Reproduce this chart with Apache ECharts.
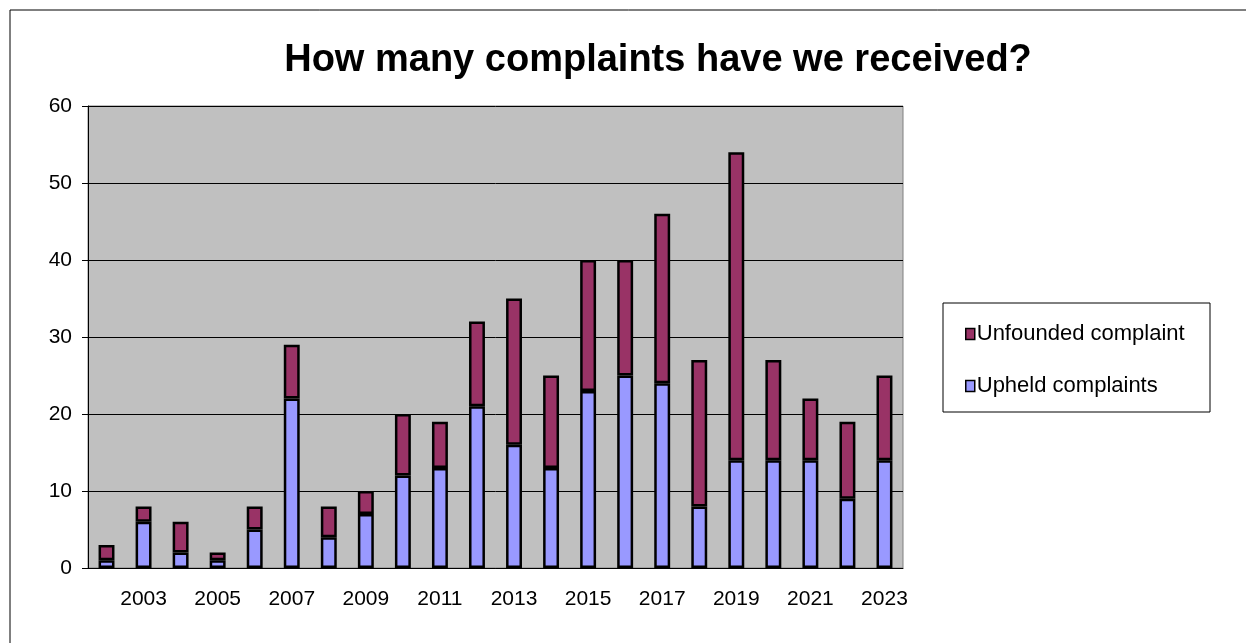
<!DOCTYPE html>
<html>
<head>
<meta charset="utf-8">
<script src="https://cdn.jsdelivr.net/npm/echarts@6/dist/echarts.min.js"></script>
<style>
  html, body { margin: 0; padding: 0; background: #fff; }
  #chart { width: 1246px; height: 643px; }
</style>
</head>
<body>
<div id="chart"></div>
<script>
// years on the x axis
var years = ['2002','2003','2004','2005','2006','2007','2008','2009','2010','2011','2012',
             '2013','2014','2015','2016','2017','2018','2019','2020','2021','2022','2023'];
// upheld complaints (bottom of stack)
var upheld = [1, 6, 2, 1, 5, 22, 4, 7, 12, 13, 21, 16, 13, 23, 25, 24, 8, 14, 14, 14, 9, 14];
// unfounded complaints (top of stack)
var unfounded = [2, 2, 4, 1, 3, 7, 4, 3, 8, 6, 11, 19, 12, 17, 15, 22, 19, 40, 13, 8, 10, 11];

var chart = echarts.init(document.getElementById('chart'));

var option = {
  backgroundColor: '#fff',
  textStyle: { fontFamily: 'Liberation Sans, Arial, sans-serif' },
  title: {
    text: 'How many complaints have we received?',
    left: 653,
    top: 37,
    textAlign: 'center',
    textStyle: { fontSize: 38, fontWeight: 'bold', color: '#000' }
  },
  // outer frame + legend box
  graphic: [{
    type: 'rect',
    shape: { x: 10, y: 10, width: 1300, height: 700 },
    style: { fill: 'none', stroke: '#000', lineWidth: 1 },
    silent: true
  }, {
    type: 'rect',
    shape: { x: 943, y: 303, width: 267, height: 109 },
    style: { fill: '#fff', stroke: '#000', lineWidth: 1 },
    silent: true,
    z: 0
  }],
  legend: {
    data: ['Unfounded complaint', 'Upheld complaints'],
    orient: 'vertical',
    left: 960,
    top: 318,
    icon: 'rect',
    itemWidth: 9,
    itemHeight: 11,
    itemGap: 30,
    textStyle: { fontSize: 22, color: '#000', padding: [0, 0, 0, -3] },
    itemStyle: { borderColor: '#000', borderWidth: 1.5 },
    z: 5
  },
  grid: {
    left: 88,
    right: 343,
    top: 106,
    bottom: 75,
    show: true,
    backgroundColor: '#C0C0C0',
    borderColor: '#808080',
    borderWidth: 1
  },
  xAxis: {
    type: 'category',
    data: years,
    axisLine: { lineStyle: { color: '#000', width: 1 } },
    axisTick: { interval: 0, length: 6, lineStyle: { color: '#000' } },
    axisLabel: {
      interval: function (i) { return i % 2 === 1; },
      fontSize: 21,
      color: '#000',
      margin: 21
    }
  },
  yAxis: {
    type: 'value',
    min: 0,
    max: 60,
    interval: 10,
    axisLine: { show: true, lineStyle: { color: '#000' } },
    axisTick: { show: true, length: 6, lineStyle: { color: '#000' } },
    axisLabel: { fontSize: 21, color: '#000', margin: 16 },
    splitLine: { lineStyle: { color: '#000', width: 1 } }
  },
  series: [
    {
      name: 'Upheld complaints',
      type: 'bar',
      stack: 'total',
      barWidth: '43%',
      itemStyle: { color: '#9999FF', borderColor: '#000', borderWidth: 2.5 },
      data: upheld
    },
    {
      name: 'Unfounded complaint',
      type: 'bar',
      stack: 'total',
      barWidth: '43%',
      itemStyle: { color: '#993366', borderColor: '#000', borderWidth: 2.5 },
      data: unfounded
    }
  ]
};

chart.setOption(option);
</script>
</body>
</html>
